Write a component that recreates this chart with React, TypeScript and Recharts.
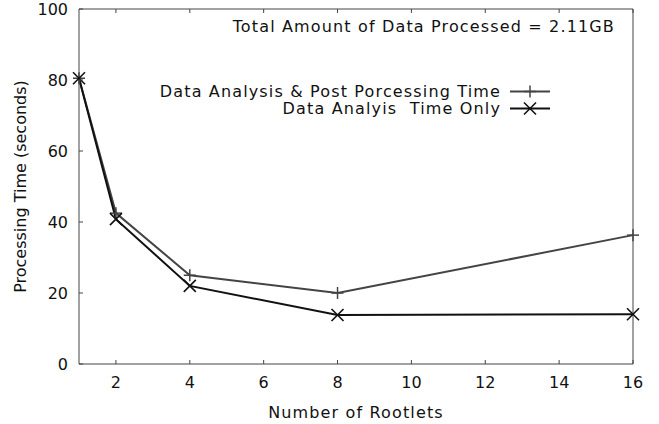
import React from "react";
import { LineChart, Line, XAxis, YAxis } from "recharts";

// Rootlet counts and timings
const rootlets = [1, 2, 4, 8, 16];
const postProcessingTime = [80.5, 42.5, 25, 20, 36.3];
const analysisOnlyTime = [80.5, 40.8, 22, 13.8, 14];
const xTicks = [2, 4, 6, 8, 10, 12, 14, 16];
const yTicks = [0, 20, 40, 60, 80, 100];
const seriesNames = ["Data Analysis & Post Porcessing Time", "Data Analyis  Time Only"];
const title = "Total Amount of Data Processed = 2.11GB";

const data = rootlets.map((r, i) => ({
  rootlets: r,
  post: postProcessingTime[i],
  analysis: analysisOnlyTime[i],
}));

const FONT = "'DejaVu Sans', Verdana, sans-serif";
const AXIS = "#444";
const TICK_LEN = 4;
const SPACING = 1.15;

function PlusDot(props: any) {
  const { cx, cy } = props;
  if (cx == null || cy == null) return null;
  return (
    <g stroke="#444" strokeWidth={1.5}>
      <line x1={cx - 6} y1={cy} x2={cx + 6} y2={cy} />
      <line x1={cx} y1={cy - 6} x2={cx} y2={cy + 6} />
    </g>
  );
}

function CrossDot(props: any) {
  const { cx, cy } = props;
  if (cx == null || cy == null) return null;
  return (
    <g stroke="#111" strokeWidth={1.6}>
      <line x1={cx - 6} y1={cy - 6} x2={cx + 6} y2={cy + 6} />
      <line x1={cx - 6} y1={cy + 6} x2={cx + 6} y2={cy - 6} />
    </g>
  );
}

function BottomTick({ x, y, payload }: any) {
  return (
    <g>
      <line x1={x} y1={y} x2={x} y2={y - TICK_LEN} stroke={AXIS} />
      <text x={x} y={y + 24} textAnchor="middle" fontSize={16} fontFamily={FONT} fill="#111">
        {payload.value}
      </text>
    </g>
  );
}

function LeftTick({ x, y, payload }: any) {
  return (
    <g>
      <line x1={x} y1={y} x2={x + TICK_LEN} y2={y} stroke={AXIS} />
      <text x={x - 11} y={y + 6} textAnchor="end" fontSize={16} fontFamily={FONT} fill="#111">
        {payload.value}
      </text>
    </g>
  );
}

function TopTick({ x, y }: any) {
  return <line x1={x} y1={y} x2={x} y2={y + TICK_LEN} stroke={AXIS} />;
}

function RightTick({ x, y }: any) {
  return <line x1={x} y1={y} x2={x - TICK_LEN} y2={y} stroke={AXIS} />;
}

function LegendSample({ cross }: { cross: boolean }) {
  return (
    <svg width={44} height={17} style={{ display: "block" }}>
      <line x1={2} y1={8.5} x2={42} y2={8.5} stroke={cross ? "#111" : "#444"} strokeWidth={2} />
      {cross ? <CrossDot cx={22} cy={8.5} /> : <PlusDot cx={22} cy={8.5} />}
    </svg>
  );
}

export default function App() {
  return (
    <div style={{ position: "absolute", left: 0, top: 0, width: 659, height: 424, background: "#fff" }}>
      <LineChart
        width={659}
        height={424}
        data={data}
        margin={{ top: 0, right: 0, bottom: 0, left: 0 }}
      >
        <XAxis
          xAxisId="bottom"
          dataKey="rootlets"
          type="number"
          domain={[1, 16]}
          ticks={xTicks}
          height={60}
          tickSize={0}
          tickMargin={0}
          tickLine={false}
          axisLine={{ stroke: AXIS }}
          tick={<BottomTick />}
          label={{
            value: "Number of Rootlets",
            position: "insideBottom",
            offset: 6,
            fontSize: 16,
            fontFamily: FONT,
            fill: "#111",
            style: { letterSpacing: SPACING },
          }}
        />
        <XAxis
          xAxisId="top"
          orientation="top"
          dataKey="rootlets"
          type="number"
          domain={[1, 16]}
          ticks={xTicks}
          height={9}
          tickSize={0}
          tickMargin={0}
          tickLine={false}
          axisLine={{ stroke: AXIS }}
          tick={<TopTick />}
        />
        <YAxis
          yAxisId="left"
          domain={[0, 100]}
          ticks={yTicks}
          width={79}
          tickSize={0}
          tickMargin={0}
          tickLine={false}
          axisLine={{ stroke: AXIS }}
          tick={<LeftTick />}
          label={{
            value: "Processing Time (seconds)",
            angle: -90,
            position: "insideLeft",
            offset: 20,
            style: { textAnchor: "middle" },
            fontSize: 16,
            fontFamily: FONT,
            fill: "#111",
          }}
        />
        <YAxis
          yAxisId="right"
          orientation="right"
          domain={[0, 100]}
          ticks={yTicks}
          width={26}
          tickSize={0}
          tickMargin={0}
          tickLine={false}
          axisLine={{ stroke: AXIS }}
          tick={<RightTick />}
        />
        <Line
          xAxisId="bottom"
          yAxisId="left"
          dataKey="post"
          name={seriesNames[0]}
          stroke="#444"
          strokeWidth={2}
          dot={<PlusDot />}
          activeDot={false}
          isAnimationActive={false}
        />
        <Line
          xAxisId="bottom"
          yAxisId="left"
          dataKey="analysis"
          name={seriesNames[1]}
          stroke="#111"
          strokeWidth={2}
          dot={<CrossDot />}
          activeDot={false}
          isAnimationActive={false}
        />
      </LineChart>

      <div
        style={{
          position: "absolute",
          right: 659 - 615,
          top: 17,
          fontFamily: FONT,
          fontSize: 16,
          letterSpacing: SPACING,
          color: "#111",
          whiteSpace: "pre",
          lineHeight: "20px",
        }}
      >
        {title}
      </div>

      <div style={{ position: "absolute", right: 659 - 552, top: 83, fontFamily: FONT, fontSize: 16, color: "#111" }}>
        {seriesNames.map((name, i) => (
          <div key={name} style={{ display: "flex", alignItems: "center", justifyContent: "flex-end", height: 17 }}>
            <span style={{ whiteSpace: "pre", lineHeight: "17px", letterSpacing: SPACING }}>{name}</span>
            <span style={{ marginLeft: 7 }}>
              <LegendSample cross={i === 1} />
            </span>
          </div>
        ))}
      </div>
    </div>
  );
}
